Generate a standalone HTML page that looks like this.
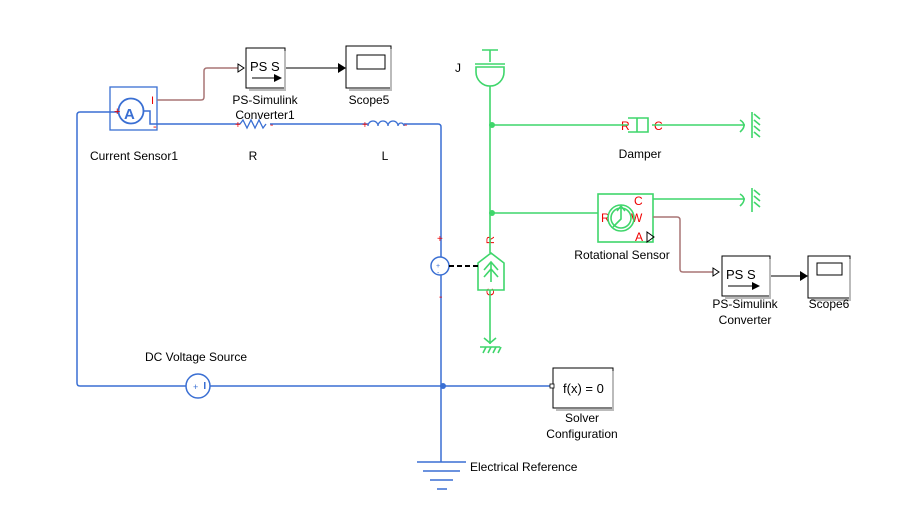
<!DOCTYPE html>
<html><head><meta charset="utf-8"><style>
html,body{margin:0;padding:0;background:#fff;}
svg{display:block;font-family:"Liberation Sans",sans-serif;}
</style></head><body>
<svg width="904" height="518" viewBox="0 0 904 518" xmlns="http://www.w3.org/2000/svg">
<g fill="none" stroke="#3a6fd3" stroke-width="1.5">
 <path d="M118,112 H80 Q77,112 77,115 V383 Q77,386 80,386 H186"/>
 <path d="M210,386 H553"/>
 <path d="M157,124 H240"/>
 <path d="M270,124 H368"/>
 <path d="M404,124 H438 Q441,124 441,127 V257"/>
 <path d="M441,275 V462"/>
 <circle cx="198" cy="386" r="12"/>
 <circle cx="131" cy="111" r="12.5" stroke-width="1.8"/>
 <path d="M143,111 H150 V124 H157"/>
 <rect x="110" y="87" width="47" height="43" stroke-width="1.3"/>
 <circle cx="440" cy="266" r="9"/>
 <path d="M240,124 l3,-4 l4,8 l4,-8 l4,8 l4,-8 l4,8 l3,-4" stroke-width="1.3"/>
 <path d="M368,126 a5,5 0 0 1 10,0 a5,5 0 0 1 10,0 a5,5 0 0 1 10,0 a3,3 0 0 1 6,0" stroke-width="1.3"/>
 <path d="M417,462 H466 M423,471 H460 M430,480 H453 M437,489 H447"/>
</g>
<circle cx="443" cy="386" r="3" fill="#3a6fd3"/>
<text x="193" y="390" font-size="9" fill="#3a6fd3">+</text>
<rect x="204" y="382" width="1.5" height="7" fill="#3a6fd3"/>
<text x="124" y="119" font-size="15" font-weight="bold" fill="#3a6fd3">A</text>
<text x="436" y="268" font-size="7" fill="#3a6fd3">+</text>
<text x="437" y="275" font-size="7" fill="#3a6fd3">-</text>
<g fill="#e00" font-size="11">
 <text x="151" y="104">I</text>
 <text x="114" y="115">+</text>
 <text x="153" y="130">-</text>
 <text x="235" y="128" font-size="10">+</text>
 <text x="270" y="128" font-size="10">-</text>
 <text x="362" y="128" font-size="10">+</text>
 <text x="404" y="128" font-size="10">-</text>
 <text x="437" y="242" font-size="10">+</text>
 <text x="439" y="300" font-size="10">-</text>
 <text x="621" y="130" font-size="12">R</text>
 <text x="654" y="130" font-size="12">C</text>
 <text x="601" y="222" font-size="12">R</text>
 <text x="634" y="205" font-size="12">C</text>
 <text x="631" y="222" font-size="12">W</text>
 <text x="635" y="241" font-size="12">A</text>
 <text transform="translate(494,244) rotate(-90)" font-size="11">R</text>
 <text transform="translate(494,296) rotate(-90)" font-size="11">C</text>
</g>
<g fill="none" stroke="#3fd66b" stroke-width="1.6">
 <path d="M482,50 H498 M490,50 V62 M475,64 H505 M476,67 H504 V72 A14,14 0 0 1 476,72 Z"/>
 <path d="M490,86 V253"/>
 <path d="M490,290 V344"/>
 <path d="M492,125 H628 M652,125 H745"/>
 <path d="M628,118 H648 V132 H628 M637,118 V132 M632,118 H642 M632,132 H642"/>
 <path d="M492,213 H598"/>
 <path d="M653,199 H745"/>
 <rect x="598" y="194" width="55" height="48"/>
 <circle cx="621" cy="218" r="13"/>
 <circle cx="621" cy="218" r="10"/>
 <path d="M613,227 L621,219 V208 M617,211 L621,206 L625,211"/>
 <path d="M478,263 L491,253 L504,263 V290 H478 Z"/>
 <path d="M491,282 V262 M484,270 L491,262 L498,270 M484,277 L491,269 L498,277"/>
 <path d="M480,347 H500 M483,353 l3,-6 M488,353 l3,-6 M493,353 l3,-6 M498,353 l3,-6"/>
 <path d="M484,338 L490,343 L496,338"/>
 <path d="M752,112 V138 M754,114 l6,5 M754,120 l6,5 M754,126 l6,5 M754,132 l6,5 M740,120 Q748,125 740,132"/>
 <path d="M752,188 V212 M754,190 l6,5 M754,196 l6,5 M754,202 l6,5 M740,194 Q748,199 740,206"/>
</g>
<circle cx="492" cy="125" r="3" fill="#3fd66b"/>
<circle cx="492" cy="213" r="3" fill="#3fd66b"/>
<g fill="none" stroke="#a87575" stroke-width="1.5">
 <path d="M157,100 H201 Q204,100 204,97 V71 Q204,68 207,68 H238"/>
 <path d="M653,217 H677 Q680,217 680,220 V269 Q680,272 683,272 H713"/>
</g>
<g fill="none" stroke="#000" stroke-width="1">
 <path d="M449,266 H478" stroke-dasharray="5,3" stroke-width="2"/>
 <path d="M238,64 L244,68 L238,72 Z"/>
 <path d="M713,268 L719,272 L713,276 Z"/>
 <path d="M647,232 L654,237 L647,242 Z"/>
 <rect x="246" y="48" width="39" height="40"/>
 <rect x="722" y="256" width="48" height="40"/>
 <rect x="346" y="46" width="45" height="42"/>
 <rect x="357" y="55" width="28" height="14"/>
 <rect x="808" y="256" width="42" height="42"/>
 <rect x="817" y="263" width="25" height="12"/>
 <rect x="553" y="368" width="60" height="40"/>
 <path d="M285,68 H340 M770,276 H802"/>
 <path d="M252,78 H276 M728,286 H754"/>
</g>
<path d="M346,68 l-8,-5 v10 Z M808,276 l-8,-5 v10 Z M282,78 l-8,-4 v8 Z M760,286 l-8,-4 v8 Z" fill="#000"/>
<rect x="550" y="384" width="4" height="4" fill="#fff" stroke="#000" stroke-width="0.8"/>
<path d="M391,49 V90 H349 M850,259 V300 H811 M613,371 V410 H556 M285,51 V90 H249 M770,259 V298 H725" stroke="#bbb" stroke-width="2" fill="none"/>
<g fill="#000" font-size="12">
 <text x="250" y="71" font-size="13">PS S</text>
 <text x="726" y="279" font-size="13">PS S</text>
 <text x="563" y="393" font-size="13">f(x) = 0</text>
 <text x="265" y="104" text-anchor="middle">PS-Simulink</text>
 <text x="265" y="119" text-anchor="middle">Converter1</text>
 <text x="369" y="104" text-anchor="middle">Scope5</text>
 <text x="134" y="160" text-anchor="middle">Current Sensor1</text>
 <text x="253" y="160" text-anchor="middle">R</text>
 <text x="385" y="160" text-anchor="middle">L</text>
 <text x="458" y="72" text-anchor="middle">J</text>
 <text x="640" y="158" text-anchor="middle">Damper</text>
 <text x="622" y="259" text-anchor="middle">Rotational Sensor</text>
 <text x="745" y="308" text-anchor="middle">PS-Simulink</text>
 <text x="745" y="324" text-anchor="middle">Converter</text>
 <text x="829" y="308" text-anchor="middle">Scope6</text>
 <text x="196" y="361" text-anchor="middle">DC Voltage Source</text>
 <text x="582" y="422" text-anchor="middle">Solver</text>
 <text x="582" y="438" text-anchor="middle">Configuration</text>
 <text x="470" y="471">Electrical Reference</text>
</g>
</svg>
</body></html>
